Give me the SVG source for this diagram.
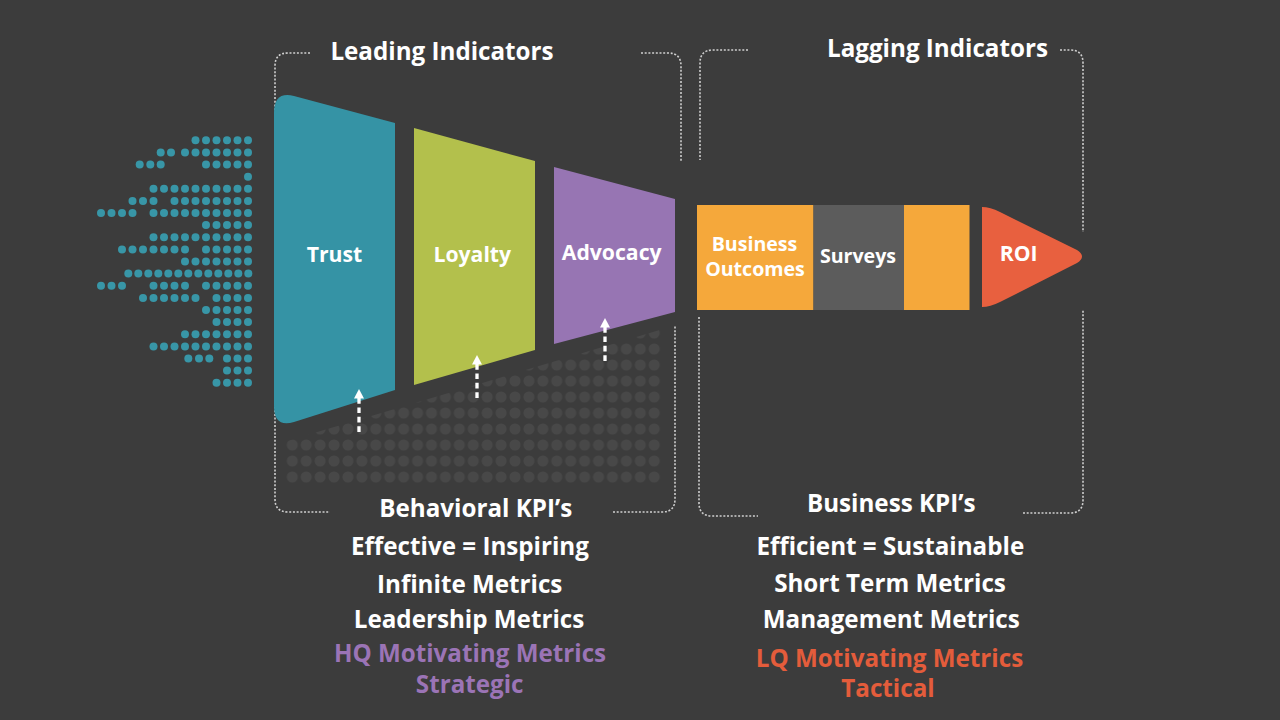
<svg xmlns="http://www.w3.org/2000/svg" width="1280" height="720" viewBox="0 0 1280 720">
<style>
text{font-family:"Open Sans","Liberation Sans",sans-serif;font-weight:700;text-anchor:middle;fill:#ffffff}
.t{font-size:24.2px}
.lbl{font-size:21.2px}
.lbl2{font-size:19.6px}
.purple{fill:#9b74b6}
.red{fill:#e45c3b}
.br{fill:none;stroke:#cfcfcf;stroke-width:1.6;stroke-dasharray:2 1.7}
.td{fill:#3896a7}
.arrow{stroke:#ffffff;stroke-width:3.3;stroke-dasharray:5.7 3.7;fill:none}
.head{fill:#ffffff}
</style>
<defs>
<pattern id="gdots" patternUnits="userSpaceOnUse" x="285.3" y="325" width="13.92" height="16">
<circle cx="7" cy="8" r="5.5" fill="#484848"/>
</pattern>
</defs>
<rect width="1280" height="720" fill="#3c3c3c"/>

<g id="dot-stream">
<g class="td">
<circle cx="248" cy="140.3" r="4"/><circle cx="237.5" cy="140.3" r="4"/><circle cx="227" cy="140.3" r="4"/><circle cx="216.5" cy="140.3" r="4"/><circle cx="206" cy="140.3" r="4"/><circle cx="195.5" cy="140.3" r="4"/>
<circle cx="248" cy="152.5" r="4"/><circle cx="237.5" cy="152.5" r="4"/><circle cx="227" cy="152.5" r="4"/><circle cx="216.5" cy="152.5" r="4"/><circle cx="206" cy="152.5" r="4"/><circle cx="195.5" cy="152.5" r="4"/><circle cx="185" cy="152.5" r="4"/><circle cx="171" cy="152.5" r="4"/><circle cx="160.7" cy="152.5" r="4"/>
<circle cx="139.7" cy="164.6" r="4"/><circle cx="150.3" cy="164.6" r="4"/><circle cx="160.7" cy="164.6" r="4"/><circle cx="248" cy="164.6" r="4"/><circle cx="237.5" cy="164.6" r="4"/><circle cx="227" cy="164.6" r="4"/><circle cx="216.5" cy="164.6" r="4"/><circle cx="206" cy="164.6" r="4"/>
<circle cx="248" cy="176.7" r="4"/>
<circle cx="248" cy="188.8" r="4"/><circle cx="237.5" cy="188.8" r="4"/><circle cx="227" cy="188.8" r="4"/><circle cx="216.5" cy="188.8" r="4"/><circle cx="206" cy="188.8" r="4"/><circle cx="195.5" cy="188.8" r="4"/><circle cx="185" cy="188.8" r="4"/><circle cx="174.5" cy="188.8" r="4"/><circle cx="164" cy="188.8" r="4"/><circle cx="153.5" cy="188.8" r="4"/>
<circle cx="132.5" cy="200.9" r="4"/><circle cx="143" cy="200.9" r="4"/><circle cx="153.5" cy="200.9" r="4"/><circle cx="248" cy="200.9" r="4"/><circle cx="237.5" cy="200.9" r="4"/><circle cx="227" cy="200.9" r="4"/><circle cx="216.5" cy="200.9" r="4"/><circle cx="206" cy="200.9" r="4"/><circle cx="195.5" cy="200.9" r="4"/><circle cx="185" cy="200.9" r="4"/><circle cx="174.5" cy="200.9" r="4"/>
<circle cx="101" cy="213" r="4"/><circle cx="111.5" cy="213" r="4"/><circle cx="122" cy="213" r="4"/><circle cx="132.5" cy="213" r="4"/><circle cx="248" cy="213" r="4"/><circle cx="237.5" cy="213" r="4"/><circle cx="227" cy="213" r="4"/><circle cx="216.5" cy="213" r="4"/><circle cx="206" cy="213" r="4"/><circle cx="195.5" cy="213" r="4"/><circle cx="185" cy="213" r="4"/><circle cx="174.5" cy="213" r="4"/><circle cx="164" cy="213" r="4"/><circle cx="153.5" cy="213" r="4"/>
<circle cx="248" cy="225.1" r="4"/><circle cx="237.5" cy="225.1" r="4"/><circle cx="227" cy="225.1" r="4"/><circle cx="216.5" cy="225.1" r="4"/><circle cx="206" cy="225.1" r="4"/>
<circle cx="248" cy="237.3" r="4"/><circle cx="237.5" cy="237.3" r="4"/><circle cx="227" cy="237.3" r="4"/><circle cx="216.5" cy="237.3" r="4"/><circle cx="206" cy="237.3" r="4"/><circle cx="195.5" cy="237.3" r="4"/><circle cx="185" cy="237.3" r="4"/><circle cx="174.5" cy="237.3" r="4"/><circle cx="164" cy="237.3" r="4"/><circle cx="153.5" cy="237.3" r="4"/>
<circle cx="122" cy="249.4" r="4"/><circle cx="132.5" cy="249.4" r="4"/><circle cx="143" cy="249.4" r="4"/><circle cx="153.5" cy="249.4" r="4"/><circle cx="164" cy="249.4" r="4"/><circle cx="174.5" cy="249.4" r="4"/><circle cx="185" cy="249.4" r="4"/><circle cx="248" cy="249.4" r="4"/><circle cx="237.5" cy="249.4" r="4"/><circle cx="227" cy="249.4" r="4"/><circle cx="216.5" cy="249.4" r="4"/><circle cx="206" cy="249.4" r="4"/>
<circle cx="248" cy="261.5" r="4"/><circle cx="237.5" cy="261.5" r="4"/><circle cx="227" cy="261.5" r="4"/><circle cx="216.5" cy="261.5" r="4"/><circle cx="206" cy="261.5" r="4"/><circle cx="195.5" cy="261.5" r="4"/><circle cx="185" cy="261.5" r="4"/>
<circle cx="128.3" cy="273.6" r="4"/><circle cx="138.3" cy="273.6" r="4"/><circle cx="148.3" cy="273.6" r="4"/><circle cx="158.3" cy="273.6" r="4"/><circle cx="168.3" cy="273.6" r="4"/><circle cx="178.3" cy="273.6" r="4"/><circle cx="188.3" cy="273.6" r="4"/><circle cx="198.3" cy="273.6" r="4"/><circle cx="208.3" cy="273.6" r="4"/><circle cx="218.3" cy="273.6" r="4"/><circle cx="228.3" cy="273.6" r="4"/><circle cx="238.3" cy="273.6" r="4"/><circle cx="248.3" cy="273.6" r="4"/>
<circle cx="101" cy="285.8" r="4"/><circle cx="111.5" cy="285.8" r="4"/><circle cx="122" cy="285.8" r="4"/><circle cx="153.5" cy="285.8" r="4"/><circle cx="164" cy="285.8" r="4"/><circle cx="174.5" cy="285.8" r="4"/><circle cx="185" cy="285.8" r="4"/><circle cx="248" cy="285.8" r="4"/><circle cx="237.5" cy="285.8" r="4"/><circle cx="227" cy="285.8" r="4"/><circle cx="216.5" cy="285.8" r="4"/><circle cx="206" cy="285.8" r="4"/>
<circle cx="143" cy="297.9" r="4"/><circle cx="153.5" cy="297.9" r="4"/><circle cx="164" cy="297.9" r="4"/><circle cx="174.5" cy="297.9" r="4"/><circle cx="185" cy="297.9" r="4"/><circle cx="195.5" cy="297.9" r="4"/><circle cx="248" cy="297.9" r="4"/><circle cx="237.5" cy="297.9" r="4"/><circle cx="227" cy="297.9" r="4"/><circle cx="216.5" cy="297.9" r="4"/>
<circle cx="248" cy="310" r="4"/><circle cx="237.5" cy="310" r="4"/><circle cx="227" cy="310" r="4"/><circle cx="216.5" cy="310" r="4"/><circle cx="206" cy="310" r="4"/>
<circle cx="248" cy="322.1" r="4"/><circle cx="237.5" cy="322.1" r="4"/><circle cx="227" cy="322.1" r="4"/><circle cx="216.5" cy="322.1" r="4"/>
<circle cx="248" cy="334.2" r="4"/><circle cx="237.5" cy="334.2" r="4"/><circle cx="227" cy="334.2" r="4"/><circle cx="216.5" cy="334.2" r="4"/><circle cx="206" cy="334.2" r="4"/><circle cx="195.5" cy="334.2" r="4"/><circle cx="185" cy="334.2" r="4"/>
<circle cx="248" cy="346.4" r="4"/><circle cx="237.5" cy="346.4" r="4"/><circle cx="227" cy="346.4" r="4"/><circle cx="216.5" cy="346.4" r="4"/><circle cx="206" cy="346.4" r="4"/><circle cx="195.5" cy="346.4" r="4"/><circle cx="185" cy="346.4" r="4"/><circle cx="174.5" cy="346.4" r="4"/><circle cx="164" cy="346.4" r="4"/><circle cx="153.5" cy="346.4" r="4"/>
<circle cx="188.3" cy="358.5" r="4"/><circle cx="199" cy="358.5" r="4"/><circle cx="209.3" cy="358.5" r="4"/><circle cx="248" cy="358.5" r="4"/><circle cx="237.5" cy="358.5" r="4"/><circle cx="227" cy="358.5" r="4"/>
<circle cx="248" cy="370.6" r="4"/><circle cx="237.5" cy="370.6" r="4"/><circle cx="227" cy="370.6" r="4"/>
<circle cx="248" cy="382.7" r="4"/><circle cx="237.5" cy="382.7" r="4"/><circle cx="227" cy="382.7" r="4"/><circle cx="216.5" cy="382.7" r="4"/>
</g>
</g>

<g id="dot-field">
<polygon points="285.3,441.6 661.3,329.6 661.3,485 285.3,485" fill="url(#gdots)"/>
</g>

<g id="bracket-leading">
<path class="br" d="M310,53 H288 Q275,53 275,66 V115"/>
<path class="br" d="M275,388 V499 Q275,512 288,512 H330"/>
<path class="br" d="M613,512 H662 Q675,512 675,499 V325"/>
<path class="br" d="M641,53 H668 Q681,53 681,66 V162"/>
<text class="t" x="442" y="60">Leading Indicators</text>
</g>

<g id="bracket-lagging">
<path class="br" d="M748,50 H713 Q700,50 700,63 V160"/>
<path class="br" d="M699,317 V503 Q699,516 712,516 H758"/>
<path class="br" d="M1023,513 H1070 Q1083,513 1083,500 V310"/>
<path class="br" d="M1060,50 H1070 Q1083,50 1083,63 V232"/>
<text class="t" x="937.5" y="57">Lagging Indicators</text>
</g>

<g id="node-trust">
<path d="M274,113 Q274,91 294,96 L395,123 V390 L294,422 Q274,428 274,406 Z" fill="#3593a5"/>
<text class="lbl" x="334.5" y="262">Trust</text>
</g>

<g id="node-loyalty">
<path d="M414,128 L535,161 V350 L414,385 Z" fill="#b3c04c"/>
<text class="lbl" x="472.3" y="262">Loyalty</text>
</g>

<g id="node-advocacy">
<path d="M554,167 L675,199 V312 L554,344 Z" fill="#9775b3"/>
<text class="lbl" x="611.7" y="260">Advocacy</text>
</g>

<g id="node-business-outcomes">
<rect x="697" y="205" width="116.5" height="105" fill="#f5a83b"/>
<text class="lbl2" x="754.5" y="251">Business</text>
<text class="lbl2" x="755" y="276">Outcomes</text>
</g>

<g id="node-surveys">
<rect x="813.5" y="205" width="90.5" height="105" fill="#5c5c5c"/>
<text class="lbl2" x="858" y="263">Surveys</text>
</g>

<g id="node-orange-end">
<rect x="904" y="205" width="65.5" height="105" fill="#f5a83b"/>
</g>

<g id="node-roi">
<path d="M982,207 Q990,207 1000,212 L1077,250 Q1087,256.5 1077,263 L1000,302 Q990,307 982,307 Z" fill="#e8603f"/>
<text class="lbl" x="1018.7" y="261">ROI</text>
</g>

<g id="connectors">
<line class="arrow" x1="359" y1="398" x2="359" y2="435"/>
<polygon class="head" points="359,389 364,398.5 354,398.5"/>
<line class="arrow" x1="477" y1="364" x2="477" y2="401"/>
<polygon class="head" points="477,355 482,364.5 472,364.5"/>
<line class="arrow" x1="605" y1="327" x2="605" y2="364"/>
<polygon class="head" points="605,318 610,327.5 600,327.5"/>
</g>

<g id="text-behavioral">
<text class="t" x="475.8" y="516.7">Behavioral KPI’s</text>
<text class="t" x="470" y="555">Effective = Inspiring</text>
<text class="t" x="469.7" y="592.7">Infinite Metrics</text>
<text class="t" x="469" y="628.3">Leadership Metrics</text>
<text class="t purple" x="470" y="661.7">HQ Motivating Metrics</text>
<text class="t purple" x="469.7" y="693">Strategic</text>
</g>

<g id="text-business">
<text class="t" x="891.2" y="512.3">Business KPI’s</text>
<text class="t" x="890.3" y="555">Efficient = Sustainable</text>
<text class="t" x="890" y="592.3">Short Term Metrics</text>
<text class="t" x="891.3" y="628.3">Management Metrics</text>
<text class="t red" x="889.5" y="666.7">LQ Motivating Metrics</text>
<text class="t red" x="888" y="696.7">Tactical</text>
</g>
</svg>
